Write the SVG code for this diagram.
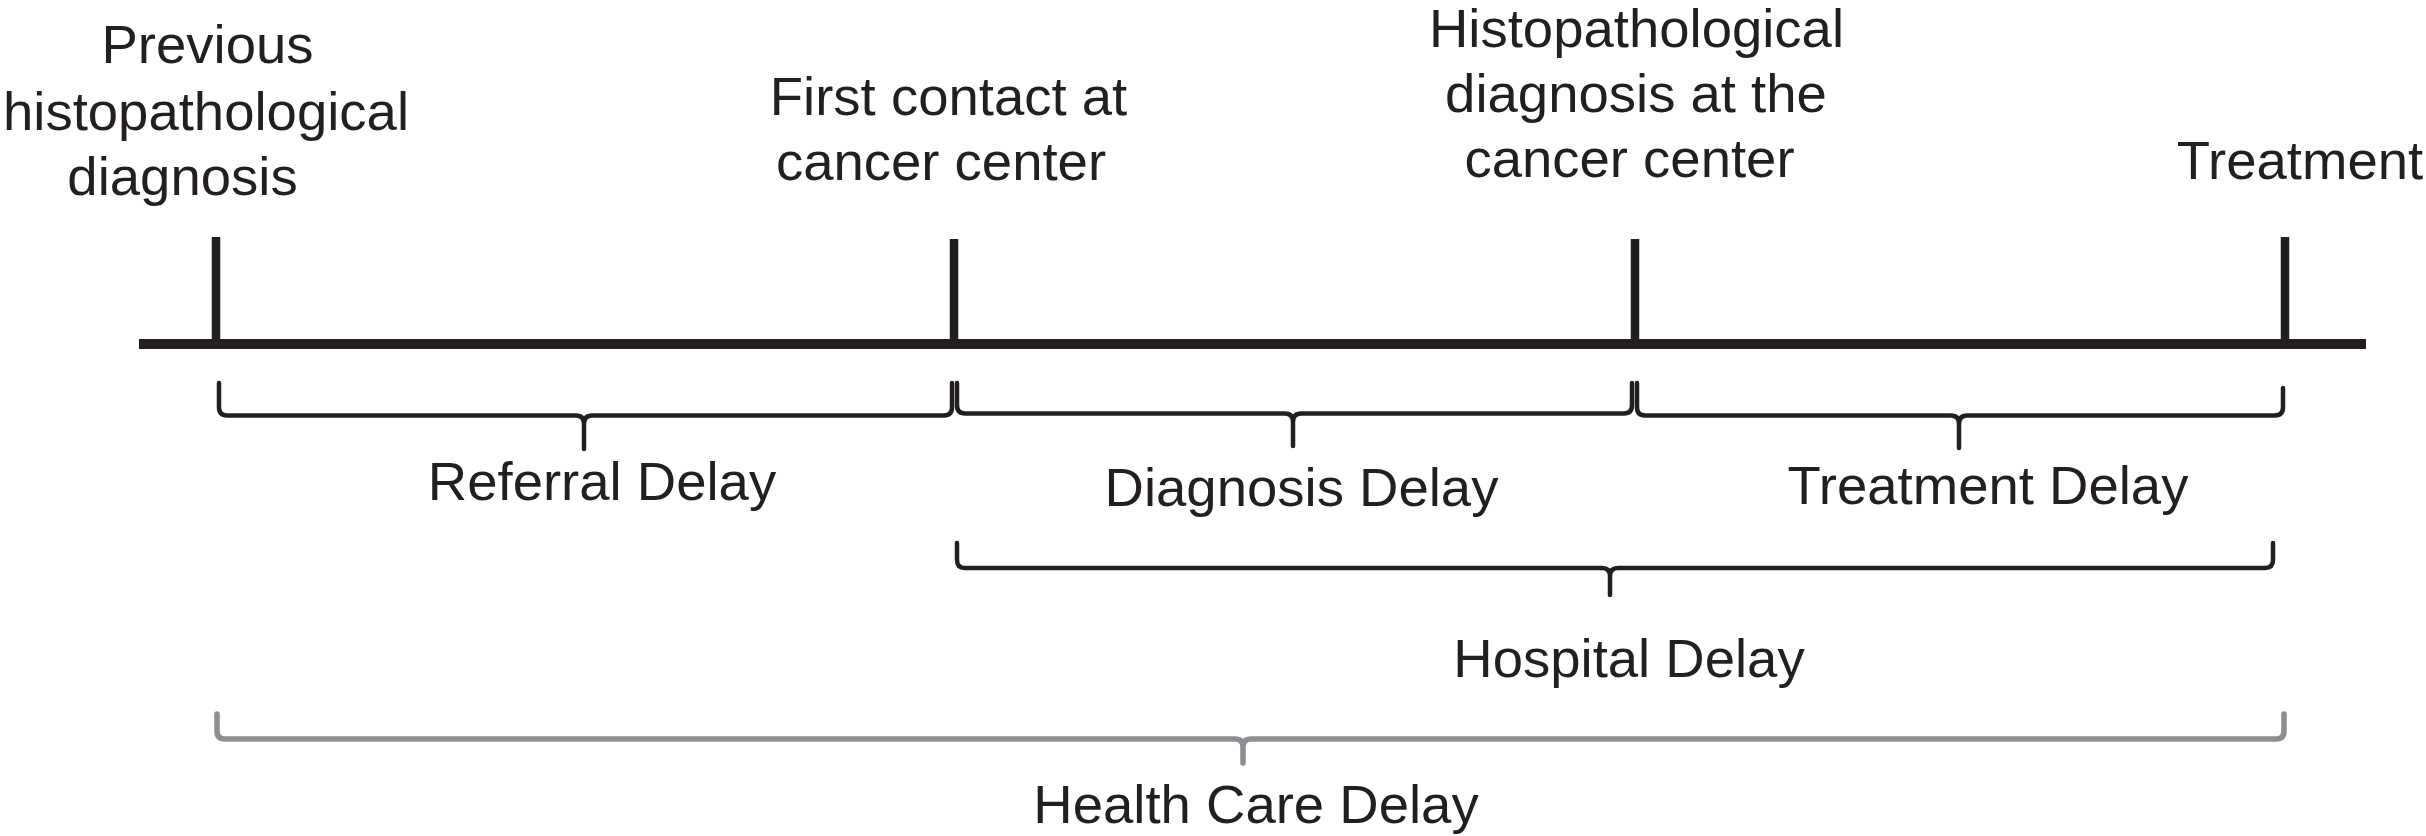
<svg xmlns="http://www.w3.org/2000/svg" width="2426" height="836" viewBox="0 0 2426 836">
<style>
  text { font-family: "Liberation Sans", Arial, sans-serif; font-size: 54.5px; fill: #231f20; text-anchor: middle; }
  .tick { stroke: #231f20; stroke-width: 8.5; fill: none; }
  .axis { stroke: #231f20; stroke-width: 10; fill: none; }
  .brace { stroke: #231f20; stroke-width: 4.5; fill: none; stroke-linejoin: round; stroke-linecap: round; }
  .brace-gray { stroke: #8c8f92; stroke-width: 5.5; fill: none; stroke-linejoin: round; stroke-linecap: round; }
</style>
<rect width="2426" height="836" fill="#ffffff"/>

<g id="timeline-axis">
  <line class="axis" x1="139" y1="344" x2="2366" y2="344"/>
</g>

<g id="node-previous-diagnosis">
  <line class="tick" x1="216" y1="237" x2="216" y2="344"/>
  <text x="207.5" y="63">Previous</text>
  <text x="206" y="130">histopathological</text>
  <text x="182.5" y="195">diagnosis</text>
</g>

<g id="node-first-contact">
  <line class="tick" x1="954" y1="239" x2="954" y2="344"/>
  <text x="948.5" y="115">First contact at</text>
  <text x="941" y="180">cancer center</text>
</g>

<g id="node-histo-diagnosis-center">
  <line class="tick" x1="1635" y1="239" x2="1635" y2="344"/>
  <text x="1636.5" y="47">Histopathological</text>
  <text x="1636" y="112">diagnosis at the</text>
  <text x="1629.5" y="177">cancer center</text>
</g>

<g id="node-treatment">
  <line class="tick" x1="2285" y1="237" x2="2285" y2="344"/>
  <text x="2300" y="179">Treatment</text>
</g>

<g id="connectors">
  <!-- Referral Delay -->
  <path class="brace" d="M219,383 L219,407 Q219,415.5 227,415.5 L576,415.5 Q584,415.5 584,424 L584,449 M584,424 Q584,415.5 592,415.5 L944,415.5 Q952,415.5 952,407 L952,383"/>
  <!-- Diagnosis Delay -->
  <path class="brace" d="M957,383 L957,405 Q957,413.5 965,413.5 L1285,413.5 Q1293,413.5 1293,422 L1293,446 M1293,422 Q1293,413.5 1301,413.5 L1624,413.5 Q1632,413.5 1632,405 L1632,383"/>
  <!-- Treatment Delay -->
  <path class="brace" d="M1637,383 L1637,407 Q1637,415.5 1645,415.5 L1951,415.5 Q1959,415.5 1959,424 L1959,448 M1959,424 Q1959,415.5 1967,415.5 L2275,415.5 Q2283,415.5 2283,407 L2283,388"/>
  <!-- Hospital Delay -->
  <path class="brace" d="M957,543 L957,560 Q957,568 965,568 L1602,568 Q1610,568 1610,576 L1610,595 M1610,576 Q1610,568 1618,568 L2265,568 Q2273,568 2273,560 L2273,543"/>
  <!-- Health Care Delay -->
  <path class="brace-gray" d="M217,714 L217,731 Q217,739 225,739 L1235,739 Q1243,739 1243,747 L1243,763 M1243,747 Q1243,739 1251,739 L2276,739 Q2284,739 2284,731 L2284,714"/>
</g>

<g id="labels">
  <text x="602" y="500">Referral Delay</text>
  <text x="1301.5" y="506">Diagnosis Delay</text>
  <text x="1988" y="504">Treatment Delay</text>
  <text x="1629" y="677">Hospital Delay</text>
  <text x="1256" y="823">Health Care Delay</text>
</g>
</svg>
